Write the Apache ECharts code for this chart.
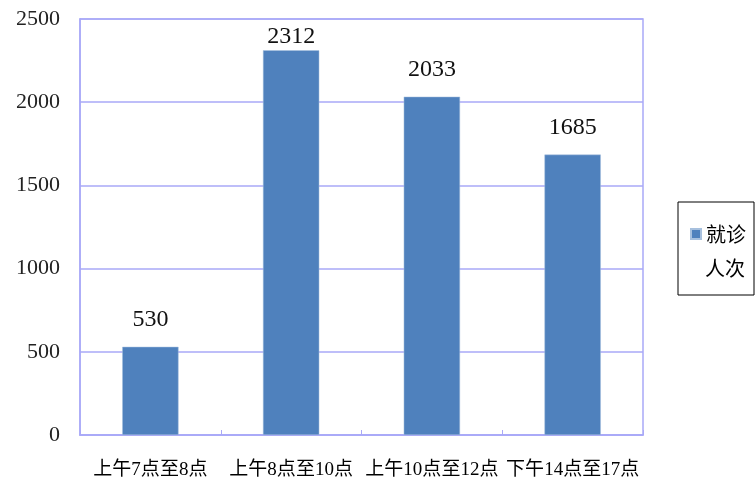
<!DOCTYPE html>
<html>
<head>
<meta charset="utf-8">
<script src="https://cdn.jsdelivr.net/npm/echarts@6/dist/echarts.min.js"></script>
<style>html,body{margin:0;padding:0;background:#fff}#c{width:755px;height:488px}</style>
</head>
<body>
<div id="c"></div>
<script>
var categories = ['上午7点至8点', '上午8点至10点', '上午10点至12点', '下午14点至17点'];
var visits = [530, 2312, 2033, 1685];
var seriesName = '就诊人次';
var yTicks = { min: 0, max: 2500, interval: 500 };

var lineColor = '#a9a9f7';
var maxVal = Math.max.apply(null, visits);
var barData = visits.map(function (v) {
  // the tallest label sits closer to its bar (kept inside the plot area, as in the original)
  return v === maxVal ? { value: v, label: { distance: 2 } } : v;
});
var chart = echarts.init(document.getElementById('c'), null, { renderer: 'canvas' });
chart.setOption({
  animation: false,
  backgroundColor: '#ffffff',
  grid: { left: 80, right: 112, top: 19, bottom: 53, show: true, borderColor: lineColor, borderWidth: 1.5, backgroundColor: 'transparent' },
  xAxis: {
    type: 'category',
    data: categories,
    axisLine: { lineStyle: { color: lineColor, width: 1.5 } },
    axisTick: { show: true, inside: true, length: 5, lineStyle: { color: lineColor } },
    axisLabel: { margin: 26, fontSize: 19, color: '#000', fontFamily: 'Liberation Serif, "Noto Sans CJK SC"', interval: 0 }
  },
  yAxis: {
    type: 'value',
    min: yTicks.min, max: yTicks.max, interval: yTicks.interval,
    axisLine: { show: true, lineStyle: { color: lineColor, width: 1.5 } },
    axisTick: { show: false },
    splitLine: { lineStyle: { color: lineColor, width: 1.5 } },
    axisLabel: { margin: 20, fontSize: 22, color: '#222', fontFamily: 'Liberation Serif', formatter: function (v) { return String(v); } }
  },
  legend: {
    show: true,
    left: 678, top: 202,
    orient: 'vertical',
    borderColor: '#000', borderWidth: 1,
    padding: [22, 8, 51, 12],
    itemWidth: 10, itemHeight: 10,
    icon: 'rect',
    formatter: function () { return '就诊'; },
    textStyle: { fontSize: 20, color: '#000', fontFamily: '"Noto Sans CJK SC"' },
    data: [seriesName]
  },
  graphic: [{
    type: 'text', left: 705, top: 258,
    style: { text: '人次', fontSize: 20, fill: '#000', fontFamily: '"Noto Sans CJK SC"' }
  }],
  series: [{
    name: seriesName,
    type: 'bar',
    data: barData,
    barWidth: '40%',
    itemStyle: { color: '#4f81bd', borderColor: '#a7c0de', borderWidth: 0.5 },
    label: { show: true, position: 'top', distance: 15, fontSize: 24, color: '#111', fontFamily: 'Liberation Serif' }
  }]
});
</script>
</body>
</html>
